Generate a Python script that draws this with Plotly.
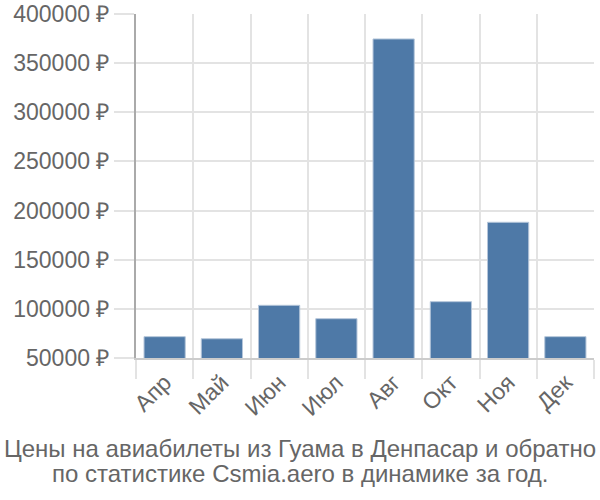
import plotly.graph_objects as go

months = ["Апр", "Май", "Июн", "Июл", "Авг", "Окт", "Ноя", "Дек"]
prices = [71700, 69600, 103600, 90000, 374600, 107300, 188100, 71700]
y_ticks = [50000, 100000, 150000, 200000, 250000, 300000, 350000, 400000]
y_labels = [f"{v} ₽" for v in y_ticks]
title_lines = ["Цены на авиабилеты из Гуама в Денпасар и обратно",
               "по статистике Csmia.aero в динамике за год."]

centers = [i + 0.5 for i in range(len(months))]

fig = go.Figure(go.Bar(
    x=centers, y=prices, width=0.72,
    marker=dict(color="#4e79a7", line=dict(color="#b5c6da", width=1)),
    hoverinfo="skip",
))

font = "Liberation Sans, Arial, sans-serif"
annotations = []
for i, line in enumerate(title_lines):
    annotations.append(dict(
        text=line, xref="paper", yref="paper",
        x=0.5, xanchor="center", y=0, yanchor="middle", yshift=-90 - 25 * i,
        xshift=-65,
        showarrow=False, font=dict(size=24, color="#666666", family=font),
    ))

fig.update_layout(
    width=600, height=500,
    margin=dict(l=136, r=6, t=14, b=142, autoexpand=False),
    paper_bgcolor="white", plot_bgcolor="white",
    showlegend=False,
    font=dict(family=font, color="#666666"),
    xaxis=dict(
        range=[0, len(months)],
        tickvals=centers, ticktext=months, tickangle=-45,
        showgrid=False, ticks="", tickfont=dict(size=23, color="#666666"),
        showline=True, linecolor="#cccccc", linewidth=2,
        minor=dict(tickvals=list(range(len(months) + 1)), showgrid=True,
                   gridcolor="#e3e3e3", gridwidth=2, ticks="outside",
                   ticklen=19, tickcolor="#e3e3e3", tickwidth=2),
        zeroline=False, fixedrange=True, automargin=False,
    ),
    yaxis=dict(
        range=[50000, 400000],
        tickvals=y_ticks, ticktext=y_labels,
        showgrid=True, gridcolor="#e3e3e3", gridwidth=2,
        ticks="outside", ticklen=20, tickcolor="#e3e3e3", tickwidth=2,
        tickfont=dict(size=23, color="#666666"),
        showline=True, linecolor="#aaaaaa", linewidth=2,
        zeroline=False, fixedrange=True, automargin=False,
    ),
    annotations=annotations,
)
fig.write_html("out.html")
